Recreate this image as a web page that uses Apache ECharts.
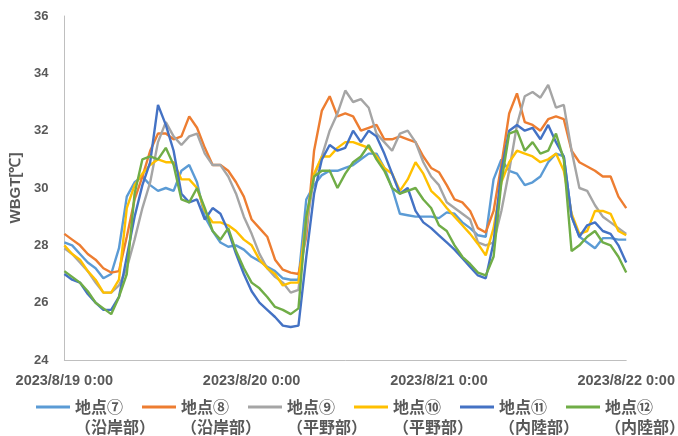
<!DOCTYPE html>
<html>
<head>
<meta charset="utf-8">
<script src="https://cdn.jsdelivr.net/npm/echarts@6/dist/echarts.min.js"></script>
<style>html,body{margin:0;padding:0;background:#fff;}#c{width:678px;height:436px;}</style>
</head>
<body>
<div id="c"></div>
<script>
// tick labels shown on the x axis (every 24 hours)
var tickLabels = ['2023/8/19 0:00', '2023/8/20 0:00', '2023/8/21 0:00', '2023/8/22 0:00'];
var stationNames = ['地点⑦', '地点⑧', '地点⑨', '地点⑩', '地点⑪', '地点⑫'];
var regionNames = ['（沿岸部）', '（沿岸部）', '（平野部）', '（平野部）', '（内陸部）', '（内陸部）'];
var seriesColors = ['#5B9BD5', '#ED7D31', '#A5A5A5', '#FFC000', '#4472C4', '#70AD47'];

// hourly WBGT values, 8/19 0:00 .. 8/22 0:00 (73 points)
var p07 = [28.1,28.0,27.7,27.4,27.2,26.85,27.0,27.9,29.7,30.2,30.4,30.1,29.9,30.0,29.9,30.6,30.8,30.2,29.0,28.5,28.1,27.95,28.0,27.85,
  27.6,27.45,27.25,27.1,26.85,26.8,26.8,29.6,30.1,30.45,30.6,30.6,30.7,30.8,31.0,31.2,31.2,30.7,30.0,29.1,29.05,29.0,29.0,29.0,
  28.95,29.15,29.1,28.8,28.6,28.35,28.3,30.3,31.0,30.6,30.5,30.1,30.2,30.4,30.9,31.2,31.1,29.0,28.3,28.1,27.9,28.25,28.25,28.2,28.2];
var p08 = [28.4,28.2,28.0,27.7,27.5,27.2,27.05,27.1,28.3,29.6,30.4,31.3,31.9,31.9,31.7,31.8,32.5,32.1,31.4,30.8,30.8,30.6,30.2,29.7,
  28.9,28.6,28.3,27.5,27.15,27.05,27.0,28.3,31.3,32.7,33.2,32.5,32.6,32.5,32.0,32.1,32.2,31.7,31.7,31.8,31.7,31.6,31.1,30.7,
  30.55,30.1,29.6,29.5,29.2,28.6,28.45,29.2,30.8,32.6,33.3,32.3,32.2,32.0,32.4,32.5,32.4,31.3,30.9,30.75,30.6,30.4,30.4,29.7,29.3];
var p09 = [27.9,27.7,27.4,27.1,26.7,26.35,26.35,26.6,27.2,28.2,29.3,30.2,31.6,32.3,31.8,31.5,31.8,31.9,31.2,30.8,30.8,30.4,29.8,29.0,
  28.4,27.7,27.2,26.9,26.7,26.35,26.45,28.6,30.4,31.1,32.0,32.6,33.4,33.0,33.1,32.8,31.9,31.6,31.3,31.9,32.0,31.6,30.9,30.4,
  30.1,29.5,29.3,29.1,28.9,28.1,28.0,28.1,29.2,30.6,32.2,33.2,33.35,33.15,33.6,32.8,32.9,31.3,30.0,29.9,29.4,29.0,28.8,28.6,28.4];
var p10 = [28.0,27.7,27.5,27.1,26.8,26.35,26.35,26.8,29.3,30.1,30.5,30.8,31.0,30.9,30.9,30.3,30.3,30.0,29.2,28.8,28.8,28.7,28.5,28.2,
  28.0,27.5,27.2,27.0,26.6,26.7,26.7,28.9,30.5,31.1,31.1,31.4,31.6,31.6,31.5,31.4,31.1,30.7,30.5,29.9,30.3,30.9,30.5,29.9,
  29.65,29.3,29.0,28.7,28.4,28.05,27.65,28.6,30.2,30.9,31.3,31.2,31.1,30.9,31.0,31.2,30.6,29.1,28.4,28.5,29.2,29.2,29.1,28.5,28.35];
var p11 = [27.0,26.8,26.7,26.3,26.0,25.75,25.75,26.2,27.6,29.0,30.1,30.9,32.9,32.2,31.3,29.8,29.5,29.6,28.9,29.3,29.1,28.5,27.7,27.0,
  26.4,26.0,25.75,25.5,25.2,25.15,25.2,27.6,29.8,31.0,31.5,31.3,31.4,32.0,31.6,32.0,31.8,31.2,30.5,29.8,30.0,29.2,28.8,28.6,
  28.35,28.1,27.85,27.55,27.25,26.95,26.85,28.1,30.6,32.0,32.2,32.0,32.1,31.7,32.2,31.6,31.1,29.0,28.3,28.7,28.8,28.5,28.4,28.0,27.4];
var p12 = [27.1,26.9,26.7,26.4,26.0,25.8,25.6,26.2,27.0,29.8,31.0,31.1,31.0,31.4,30.8,29.6,29.5,30.0,29.3,28.5,28.2,28.6,27.8,27.2,
  26.7,26.5,26.2,25.85,25.75,25.6,25.8,29.0,30.4,30.6,30.6,30.0,30.5,30.9,31.1,31.5,31.0,30.6,30.0,29.8,29.9,30.0,29.6,29.3,
  28.7,28.5,28.0,27.6,27.35,27.05,26.95,27.6,30.2,31.9,32.0,31.3,31.6,31.2,31.3,31.9,31.0,27.8,28.0,28.3,28.5,28.1,28.0,27.6,27.05];
var allValues = [p07, p08, p09, p10, p11, p12];

// hourly category labels
var categories = [];
var dayNames = ['2023/8/19', '2023/8/20', '2023/8/21', '2023/8/22'];
for (var d = 0; d < 4; d++) {
  for (var h = 0; h < 24; h++) {
    if (d === 3 && h > 0) break;
    categories.push(dayNames[d] + ' ' + h + ':00');
  }
}

var legendNames = stationNames.map(function (s, i) { return s + regionNames[i]; });

var series = allValues.map(function (vals, i) {
  return {
    name: legendNames[i],
    type: 'line',
    data: vals,
    showSymbol: false,
    symbol: 'none',
    lineStyle: { width: 2.4, color: seriesColors[i] },
    itemStyle: { color: seriesColors[i] },
    animation: false
  };
});

var cjk = 'Noto Sans CJK JP';
var chart = echarts.init(document.getElementById('c'));
chart.setOption({
  animation: false,
  grid: { left: 64, right: 50, top: 16, bottom: 76, containLabel: false },
  xAxis: {
    type: 'category',
    data: categories,
    boundaryGap: false,
    axisLine: { lineStyle: { color: '#BFBFBF', width: 1 } },
    axisTick: { show: false },
    splitLine: { show: false },
    axisLabel: {
      interval: 23,
      showMaxLabel: true,
      margin: 13,
      color: '#595959',
      fontSize: 14.5,
      fontWeight: 'bold',
      fontFamily: 'Liberation Sans',
      formatter: function (v, idx) { return tickLabels[Math.round(idx / 24)] || ''; }
    }
  },
  yAxis: {
    type: 'value',
    min: 24,
    max: 36,
    interval: 2,
    name: 'WBGT[℃]',
    nameLocation: 'middle',
    nameGap: 36,
    nameRotate: 90,
    nameTextStyle: { color: '#595959', fontSize: 15, fontWeight: 'bold', fontFamily: 'Liberation Sans' },
    axisLine: { show: true, lineStyle: { color: '#BFBFBF', width: 1 } },
    axisTick: { show: false },
    splitLine: { show: false },
    axisLabel: { margin: 16, color: '#595959', fontSize: 13, fontWeight: 'bold', fontFamily: 'Liberation Sans' }
  },
  legend: {
    left: 36,
    top: 377,
    width: 720,
    padding: 0,
    itemGap: -13,
    itemWidth: 34,
    itemHeight: 3,
    icon: 'rect',
    data: legendNames,
    formatter: function (name) {
      var i = legendNames.indexOf(name);
      return '{e| }\n{c|' + stationNames[i] + '}\n{c|' + regionNames[i] + '}';
    },
    textStyle: {
      color: '#595959',
      fontSize: 16,
      fontWeight: 'bold',
      fontFamily: cjk,
      lineHeight: 20,
      rich: {
        e: { lineHeight: 20, fontSize: 16, fontFamily: cjk },
        c: { lineHeight: 20, fontSize: 16, fontWeight: 'bold', color: '#595959', fontFamily: cjk }
      }
    }
  },
  series: series
});
</script>
</body>
</html>
